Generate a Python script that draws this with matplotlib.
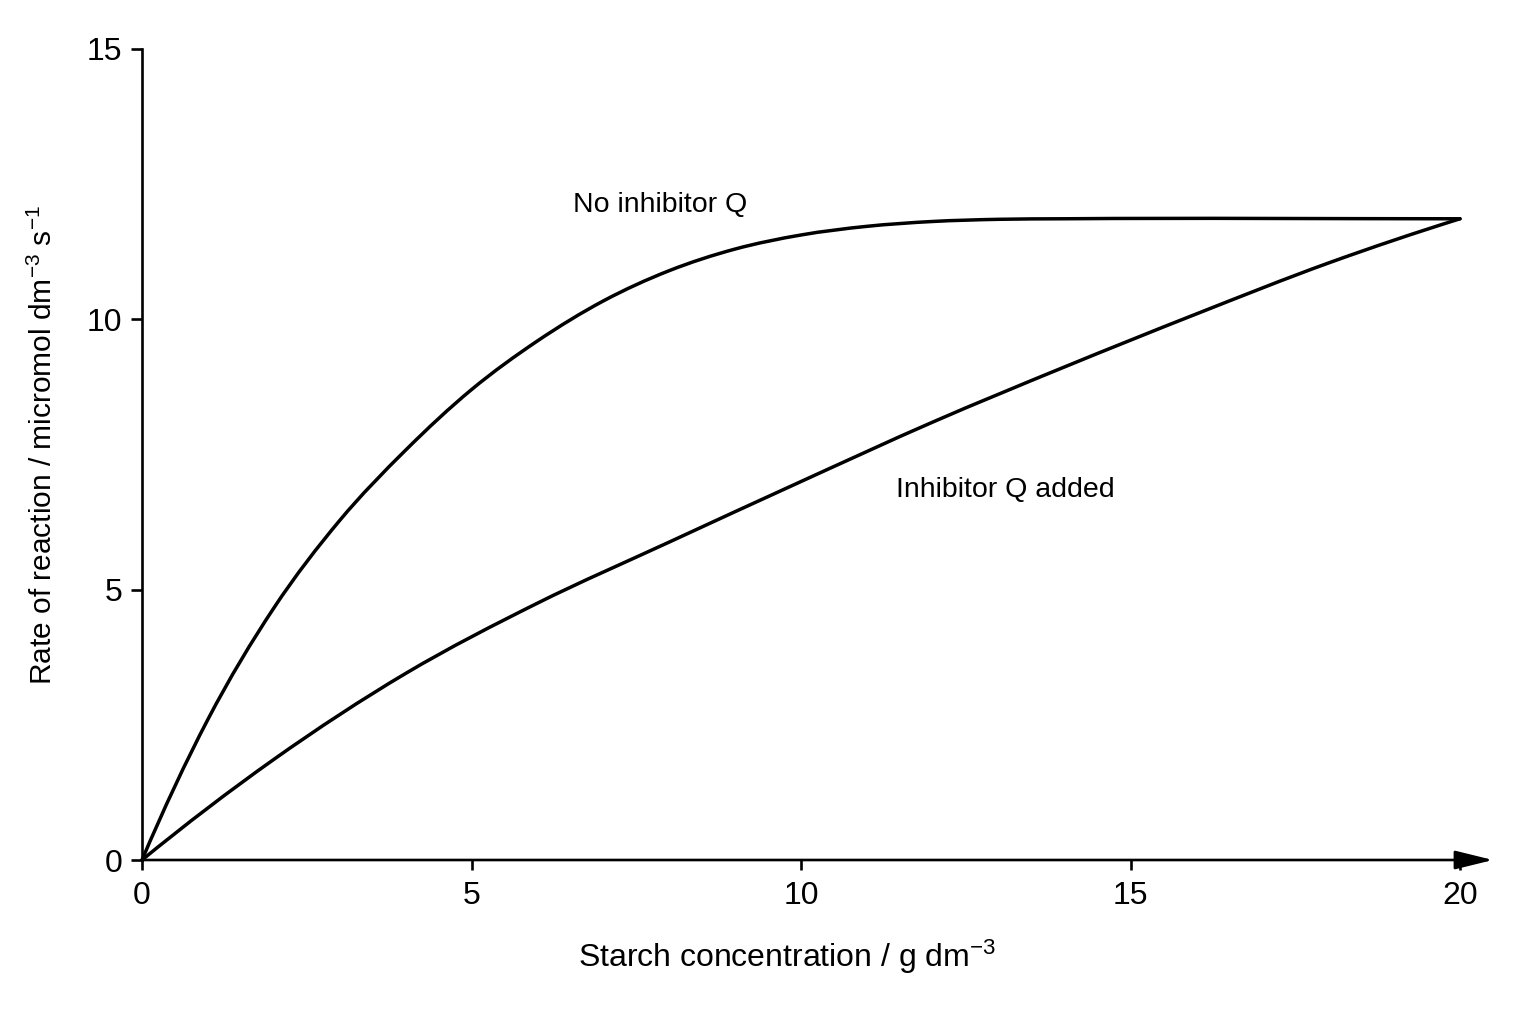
import matplotlib
matplotlib.use("Agg")
import matplotlib.pyplot as plt
import numpy as np
from matplotlib.path import Path
from matplotlib.patches import PathPatch

plt.rcParams['font.family'] = ['Liberation Sans', 'DejaVu Sans']
plt.rcParams['mathtext.fontset'] = 'custom'
plt.rcParams['mathtext.rm'] = 'Liberation Sans'

# data
# no inhibitor Q
conc_a = [0, 1, 2, 3, 4, 5, 6, 7, 8, 9, 10, 11, 12, 13, 14, 20]
rate_a = [0, 2.6, 4.66, 6.28, 7.58, 8.7, 9.6, 10.34, 10.9, 11.3, 11.56, 11.72,
          11.81, 11.85, 11.86, 11.86]
# inhibitor Q added
conc_b = [0, 2, 4, 6, 8, 10, 12, 14, 16, 18, 20]
rate_b = [0, 1.86, 3.45, 4.75, 5.88, 7.0, 8.1, 9.12, 10.1, 11.04, 11.86]

xticks = [0, 5, 10, 15, 20]
yticks = [0, 5, 10, 15]


def smooth_path(xs, ys):
    # bezier path through the read points (three-point tangents)
    x = np.asarray(xs, float)
    y = np.asarray(ys, float)
    h = np.diff(x)
    d = np.diff(y) / h
    m = np.zeros_like(y)
    for i in range(1, len(x) - 1):
        m[i] = (h[i] * d[i - 1] + h[i - 1] * d[i]) / (h[i - 1] + h[i])
    m[0] = ((2 * h[0] + h[1]) * d[0] - h[0] * d[1]) / (h[0] + h[1])
    m[-1] = ((2 * h[-1] + h[-2]) * d[-1] - h[-1] * d[-2]) / (h[-1] + h[-2])
    if m[-1] * d[-1] <= 0:
        m[-1] = 0
    verts = [(x[0], y[0])]
    codes = [Path.MOVETO]
    for i in range(len(x) - 1):
        verts += [(x[i] + h[i] / 3, y[i] + m[i] * h[i] / 3),
                  (x[i + 1] - h[i] / 3, y[i + 1] - m[i + 1] * h[i] / 3),
                  (x[i + 1], y[i + 1])]
        codes += [Path.CURVE4] * 3
    return Path(verts, codes)


fig = plt.figure(figsize=(15.36, 10.24), dpi=100)
ax = fig.add_axes([142/1536, 1 - 860/1024, 1318/1536, 811/1024])

for xs, ys in [(conc_a, rate_a), (conc_b, rate_b)]:
    ax.add_patch(PathPatch(smooth_path(xs, ys), facecolor='none', edgecolor='black',
                           lw=2.5, capstyle='round', joinstyle='round', clip_on=False))

ax.set_xlim(0, 20)
ax.set_ylim(0, 15)
ax.set_xticks(xticks)
ax.set_yticks(yticks)

for s in ['top', 'right', 'bottom']:
    ax.spines[s].set_visible(False)
ax.spines['left'].set_linewidth(1.9)

# x axis with arrow
ax.annotate('', xy=(1.025, 0), xytext=(0, 0), xycoords='axes fraction',
            arrowprops=dict(arrowstyle='-|>,head_length=1.3,head_width=0.32',
                            lw=1.9, color='black', shrinkA=0, shrinkB=0,
                            mutation_scale=18))

ax.tick_params(axis='y', direction='out', length=8, width=1.9, labelsize=23, pad=6)
ax.tick_params(axis='x', direction='out', length=7, width=1.9, labelsize=23, pad=8)

ax.set_xlabel('Starch concentration / g dm$\\mathregular{^{-3}}$', fontsize=23)
ax.set_ylabel('Rate of reaction / micromol dm$\\mathregular{^{-3}}$ s$\\mathregular{^{-1}}$',
              fontsize=21.5)
ax.xaxis.set_label_coords((787 - 142) / 1318, -(938 - 860) / 811)
ax.yaxis.set_label_coords(-(142 - 58) / 1318, (860 - 445) / 811)

ax.text(6.54, 12.11, 'No inhibitor Q', fontsize=20.5, va='center', ha='left')
ax.text(11.44, 6.84, 'Inhibitor Q added', fontsize=20.5, va='center', ha='left')

fig.savefig('out.png', dpi=100)
